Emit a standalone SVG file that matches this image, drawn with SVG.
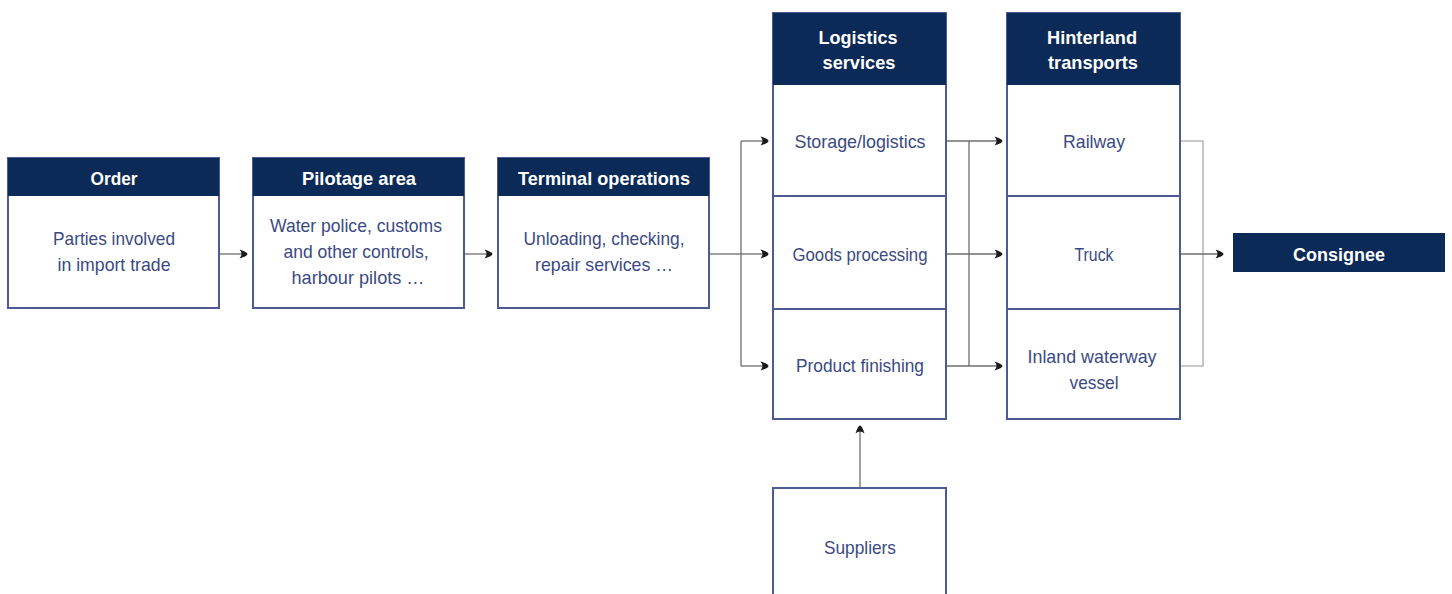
<svg xmlns="http://www.w3.org/2000/svg" width="1452" height="594" viewBox="0 0 1452 594">
<style>
.box{fill:#fff;stroke:#4d5a93;stroke-width:2}
.hdr{fill:#0c2a57}
.ht{font-family:"Liberation Sans",Arial,sans-serif;font-weight:bold;font-size:19px;fill:#fff;text-anchor:middle}
.bt{font-family:"Liberation Sans",Arial,sans-serif;font-size:19px;fill:#3b4a82;text-anchor:middle}
.ln{fill:none;stroke:#6e6e6e;stroke-width:1.3}
.ln2{fill:none;stroke:#b8b8b8;stroke-width:1.6}
</style>
<defs>
<marker id="ah" viewBox="0 0 10 10" refX="8" refY="5" markerWidth="10" markerHeight="10" markerUnits="userSpaceOnUse" orient="auto">
<path d="M1.5,0.5 Q9.5,3 9.5,5 Q9.5,7 1.5,9.5 Q5.5,5 1.5,0.5 Z" fill="#1a1a1a"/>
</marker>
</defs>
<rect width="1452" height="594" fill="#fff"/>
<g id="connectors">
<line class="ln" x1="220" y1="254" x2="246" y2="254" marker-end="url(#ah)"/>
<line class="ln" x1="465" y1="254" x2="491" y2="254" marker-end="url(#ah)"/>
<polyline class="ln" points="710,254 741,254"/>
<polyline class="ln" points="741,141 741,366"/>
<line class="ln" x1="741" y1="141" x2="767" y2="141" marker-end="url(#ah)"/>
<line class="ln" x1="741" y1="254" x2="767" y2="254" marker-end="url(#ah)"/>
<line class="ln" x1="741" y1="366" x2="767" y2="366" marker-end="url(#ah)"/>
<line class="ln" x1="947" y1="141" x2="1001" y2="141" marker-end="url(#ah)"/>
<line class="ln" x1="947" y1="254" x2="1001" y2="254" marker-end="url(#ah)"/>
<line class="ln" x1="947" y1="366" x2="1001" y2="366" marker-end="url(#ah)"/>
<polyline class="ln" points="969,141 969,366"/>
<polyline class="ln2" points="1181,141 1203,141 1203,366 1181,366"/>
<line class="ln" x1="1181" y1="254" x2="1222" y2="254" marker-end="url(#ah)"/>
<line class="ln" x1="860" y1="488" x2="860" y2="427" marker-end="url(#ah)"/>
</g>
<g id="order">
<rect class="box" x="8" y="158" width="211" height="150"/>
<rect class="hdr" x="8" y="158" width="211" height="38"/>
<text class="ht" x="114" y="185" textLength="47" lengthAdjust="spacingAndGlyphs">Order</text>
<text class="bt" x="114" y="245" textLength="122" lengthAdjust="spacingAndGlyphs">Parties involved</text>
<text class="bt" x="114" y="271" textLength="113" lengthAdjust="spacingAndGlyphs">in import trade</text>
</g>
<g id="pilotage">
<rect class="box" x="253" y="158" width="211" height="150"/>
<rect class="hdr" x="253" y="158" width="211" height="38"/>
<text class="ht" x="359" y="185" textLength="114" lengthAdjust="spacingAndGlyphs">Pilotage area</text>
<text class="bt" x="356" y="232" textLength="172" lengthAdjust="spacingAndGlyphs">Water police, customs</text>
<text class="bt" x="356" y="258" textLength="145" lengthAdjust="spacingAndGlyphs">and other controls,</text>
<text class="bt" x="358" y="284" textLength="133" lengthAdjust="spacingAndGlyphs">harbour pilots …</text>
</g>
<g id="terminal">
<rect class="box" x="498" y="158" width="211" height="150"/>
<rect class="hdr" x="498" y="158" width="211" height="38"/>
<text class="ht" x="604" y="185" textLength="172" lengthAdjust="spacingAndGlyphs">Terminal operations</text>
<text class="bt" x="604" y="245" textLength="161" lengthAdjust="spacingAndGlyphs">Unloading, checking,</text>
<text class="bt" x="604" y="271" textLength="138" lengthAdjust="spacingAndGlyphs">repair services …</text>
</g>
<g id="logistics">
<rect class="box" x="773" y="13" width="173" height="406"/>
<rect class="hdr" x="773" y="13" width="173" height="72"/>
<line class="box" x1="773" y1="196" x2="946" y2="196"/>
<line class="box" x1="773" y1="309" x2="946" y2="309"/>
<text class="ht" x="858" y="44" textLength="79" lengthAdjust="spacingAndGlyphs">Logistics</text>
<text class="ht" x="859" y="69" textLength="73" lengthAdjust="spacingAndGlyphs">services</text>
<text class="bt" x="860" y="148" textLength="131" lengthAdjust="spacingAndGlyphs">Storage/logistics</text>
<text class="bt" x="860" y="261" textLength="135" lengthAdjust="spacingAndGlyphs">Goods processing</text>
<text class="bt" x="860" y="372" textLength="128" lengthAdjust="spacingAndGlyphs">Product finishing</text>
</g>
<g id="hinterland">
<rect class="box" x="1007" y="13" width="173" height="406"/>
<rect class="hdr" x="1007" y="13" width="173" height="72"/>
<line class="box" x1="1007" y1="196" x2="1180" y2="196"/>
<line class="box" x1="1007" y1="309" x2="1180" y2="309"/>
<text class="ht" x="1092" y="44" textLength="90" lengthAdjust="spacingAndGlyphs">Hinterland</text>
<text class="ht" x="1093" y="69" textLength="90" lengthAdjust="spacingAndGlyphs">transports</text>
<text class="bt" x="1094" y="148" textLength="62" lengthAdjust="spacingAndGlyphs">Railway</text>
<text class="bt" x="1094" y="261" textLength="39" lengthAdjust="spacingAndGlyphs">Truck</text>
<text class="bt" x="1092" y="363" textLength="129" lengthAdjust="spacingAndGlyphs">Inland waterway</text>
<text class="bt" x="1094" y="389" textLength="49" lengthAdjust="spacingAndGlyphs">vessel</text>
</g>
<g id="consignee">
<rect class="hdr" x="1233" y="233" width="212" height="39"/>
<text class="ht" x="1339" y="261" textLength="92" lengthAdjust="spacingAndGlyphs">Consignee</text>
</g>
<g id="suppliers">
<rect class="box" x="773" y="488" width="173" height="120"/>
<text class="bt" x="860" y="554" textLength="72" lengthAdjust="spacingAndGlyphs">Suppliers</text>
</g>
</svg>
